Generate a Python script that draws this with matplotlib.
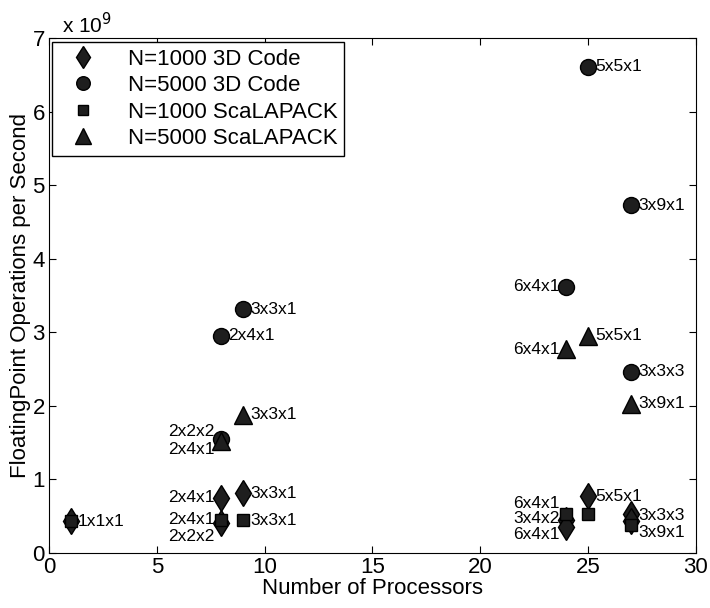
import matplotlib.pyplot as plt

plt.rcParams['font.family'] = ['Liberation Sans', 'DejaVu Sans']

# values in units of 1e9 flop/s
n1000_3d_x = [1, 8, 8, 9, 24, 24, 25, 27, 27]
n1000_3d_y = [0.43, 0.75, 0.40, 0.81, 0.45, 0.35, 0.77, 0.53, 0.43]

n5000_3d_x = [8, 8, 9, 24, 25, 27, 27]
n5000_3d_y = [2.95, 1.55, 3.31, 3.62, 6.61, 4.73, 2.46]

n1000_sca_x = [1, 8, 9, 24, 25, 27]
n1000_sca_y = [0.43, 0.45, 0.44, 0.53, 0.53, 0.37]

n5000_sca_x = [8, 9, 24, 25, 27]
n5000_sca_y = [1.52, 1.88, 2.77, 2.95, 2.03]

# grid labels: (x, y, text, side)
grid_labels = [
    (1, 0.43, '1x1x1', 'r'),
    (8, 0.75, '2x4x1', 'l'),
    (9, 0.81, '3x3x1', 'r'),
    (8, 0.45, '2x4x1', 'l'),
    (8, 0.22, '2x2x2', 'l'),
    (9, 0.44, '3x3x1', 'r'),
    (8, 1.65, '2x2x2', 'l'),
    (8, 1.40, '2x4x1', 'l'),
    (9, 1.88, '3x3x1', 'r'),
    (8, 2.95, '2x4x1', 'r'),
    (9, 3.31, '3x3x1', 'r'),
    (24, 3.62, '6x4x1', 'l'),
    (24, 2.77, '6x4x1', 'l'),
    (25, 2.96, '5x5x1', 'r'),
    (25, 6.61, '5x5x1', 'r'),
    (27, 4.73, '3x9x1', 'r'),
    (27, 2.46, '3x3x3', 'r'),
    (27, 2.03, '3x9x1', 'r'),
    (24, 0.67, '6x4x1', 'l'),
    (24, 0.46, '3x4x2', 'l'),
    (24, 0.25, '6x4x1', 'l'),
    (25, 0.77, '5x5x1', 'r'),
    (27, 0.50, '3x3x3', 'r'),
    (27, 0.28, '3x9x1', 'r'),
]

fig = plt.figure(figsize=(7.1, 6.08), dpi=100)
ax = fig.add_axes([0.069, 0.091, 0.911, 0.846])

fc = '#1e1e1e'
ax.plot(n1000_3d_x, n1000_3d_y, 'd', ms=13.5, mfc=fc, mec='k', ls='none', label='N=1000 3D Code')
ax.plot(n5000_3d_x, n5000_3d_y, 'o', ms=11.5, mfc=fc, mec='k', ls='none', label='N=5000 3D Code')
ax.plot(n1000_sca_x, n1000_sca_y, 's', ms=9, mfc=fc, mec='k', ls='none', label='N=1000 ScaLAPACK')
ax.plot(n5000_sca_x, n5000_sca_y, '^', ms=13, mfc=fc, mec='k', ls='none', label='N=5000 ScaLAPACK')

for x, y, txt, side in grid_labels:
    if side == 'r':
        ax.annotate(txt, (x, y), xytext=(5, 0), textcoords='offset points',
                    ha='left', va='center', fontsize=12.5)
    else:
        ax.annotate(txt, (x, y), xytext=(-5, 0), textcoords='offset points',
                    ha='right', va='center', fontsize=12.5)

ax.set_xlim(0, 30)
ax.set_ylim(0, 7)
ax.set_xticks(range(0, 31, 5))
ax.set_yticks(range(0, 8))
ax.tick_params(direction='in', top=True, right=True, labelsize=16, length=5, pad=3)
ax.set_xlabel('Number of Processors', fontsize=16, labelpad=0)
ax.set_ylabel('FloatingPoint Operations per Second', fontsize=16, labelpad=1)
ax.text(0.02, 1.003, r'x 10$^9$', transform=ax.transAxes, fontsize=15, va='bottom')

leg = ax.legend(loc='upper left', fontsize=16, fancybox=False, framealpha=1,
                edgecolor='k', handletextpad=0.9, borderpad=0.3, labelspacing=0.25,
                handlelength=2.2, markerscale=0.85, bbox_to_anchor=(0.005, 0.993),
                borderaxespad=0)
leg.get_frame().set_linewidth(1)

fig.savefig('out.png', dpi=100)
